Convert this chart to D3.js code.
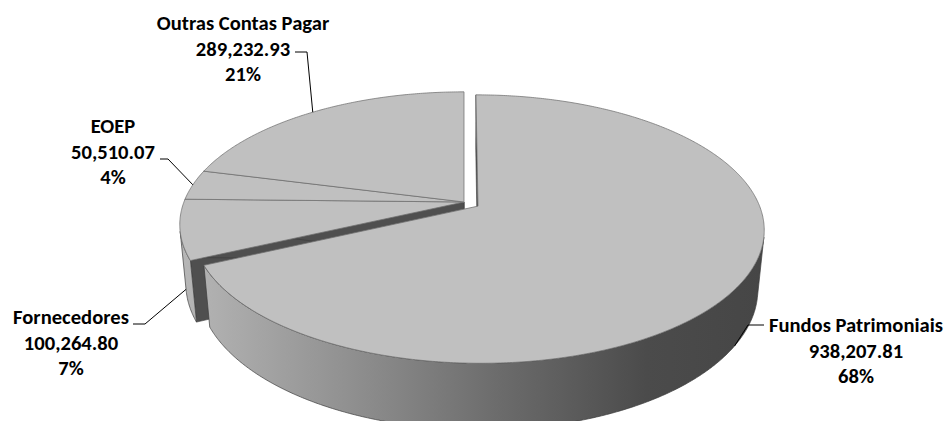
<!DOCTYPE html>
<html>
<head>
<meta charset="utf-8">
<script src="https://cdn.jsdelivr.net/npm/d3@7"></script>
<style>
    body { margin: 0; background: #fff; }
    svg { display: block; }
</style>
</head>
<body>
<div id="chart"></div>
<script>
// data, in slice order (clockwise from 12 o'clock)
const categories = ["Fundos Patrimoniais", "Fornecedores", "EOEP", "Outras Contas Pagar"];
const values = [938207.81, 100264.80, 50510.07, 289232.93];
const exploded = [true, false, false, false];

const width = 947;
const height = 421;

// 3d view of the pie (radius = 1)
const tilt = 27.4 * Math.PI / 180;
const camDist = 5.22;
const focal = 1462;
const depth = 0.24;
const explodeBy = 0.059;
const originX = 464;
const originY = 202;

// label blocks: centre x, first baseline, leader start + elbow
const labelLayout = [
    { x: 856, y: 332, from: [764, 325], elbow: [748, 325] },
    { x: 71, y: 324, from: [133, 324], elbow: [145, 324] },
    { x: 113, y: 133, from: [160, 159], elbow: [168, 159] },
    { x: 243, y: 30, from: [295, 52], elbow: [307, 52] }
];
const lineGap = 25.7;

const formatValue = d3.format(",.2f");
const formatPct = d3.format(".0%");
const total = d3.sum(values);

const svg = d3.select("#chart")
    .append("svg")
    .attr("width", width)
    .attr("height", height);

const defs = svg.append("defs");
const wallGradient = defs.append("linearGradient")
    .attr("id", "wallGradient")
    .attr("gradientUnits", "userSpaceOnUse")
    .attr("x1", 184).attr("x2", 762)
    .attr("y1", 0).attr("y2", 0);
[[0, "#b6b6b6"], [0.3, "#8e8e8e"], [0.55, "#6b6b6b"], [0.8, "#4b4b4b"], [1, "#464646"]]
    .forEach(s => wallGradient.append("stop").attr("offset", s[0]).attr("stop-color", s[1]));

const project = (u, v, h) => {
    const dist = camDist + v * Math.cos(tilt) - h * Math.sin(tilt);
    return [
        originX + focal * u / dist,
        originY - focal * (v * Math.sin(tilt) + h * Math.cos(tilt)) / dist
    ];
};

const rimPoint = (a, h, off) => project(off[0] + Math.sin(a), off[1] + Math.cos(a), h);

const rim = (a0, a1, h, off) => {
    const n = Math.max(2, Math.ceil(Math.abs(a1 - a0) / (Math.PI / 360)));
    return d3.range(n + 1).map(i => rimPoint(a0 + (a1 - a0) * i / n, h, off));
};

const camera = [0, -camDist * Math.cos(tilt)];

const wallVisible = (a, off) =>
    (camera[0] - off[0] - Math.sin(a)) * Math.sin(a) + (camera[1] - off[1] - Math.cos(a)) * Math.cos(a) > 0;

const line = d3.line();
const closed = pts => line(pts) + "Z";

const arcs = d3.pie().sort(null).startAngle(0).endAngle(2 * Math.PI)(values);
arcs.forEach((d, i) => {
    const mid = (d.startAngle + d.endAngle) / 2;
    d.offset = exploded[i] ? [explodeBy * Math.sin(mid), explodeBy * Math.cos(mid)] : [0, 0];
    d.mid = mid;
});

const drawSide = (g, d) => {
    const off = d.offset;
    const pivotTop = project(off[0], off[1], 0);
    const pivotBottom = project(off[0], off[1], -depth);
    const toCam = [camera[0] - off[0], camera[1] - off[1]];

    // radial cut faces
    [[d.startAngle, -1], [d.endAngle, 1]].forEach(([a, sign]) => {
        const n = [sign * Math.cos(a), -sign * Math.sin(a)];
        if (toCam[0] * n[0] + toCam[1] * n[1] > 0) {
            g.append("path")
                .attr("d", closed([pivotTop, rimPoint(a, 0, off), rimPoint(a, -depth, off), pivotBottom]))
                .attr("fill", "#4f4f4f")
                .attr("stroke", "#3a3a3a")
                .attr("stroke-width", 0.6);
        }
    });

    // outer wall, visible part only
    const step = Math.PI / 720;
    let runStart = null;
    const runs = [];
    for (let a = d.startAngle; a <= d.endAngle + 1e-9; a += step) {
        const vis = wallVisible(a, off);
        if (vis && runStart === null) runStart = a;
        if (!vis && runStart !== null) { runs.push([runStart, a - step]); runStart = null; }
    }
    if (runStart !== null) runs.push([runStart, d.endAngle]);

    runs.forEach(([a0, a1]) => {
        const top = rim(a0, a1, 0, off);
        const bottom = rim(a1, a0, -depth, off);
        g.append("path")
            .attr("d", closed(top.concat(bottom)))
            .attr("fill", "url(#wallGradient)")
            .attr("stroke", "#3c3c3c")
            .attr("stroke-width", 0.7);
    });
};

const drawTop = (g, d) => {
    const off = d.offset;
    const pts = [project(off[0], off[1], 0)].concat(rim(d.startAngle, d.endAngle, 0, off));
    g.append("path")
        .attr("d", closed(pts))
        .attr("fill", "#c0c0c0")
        .attr("stroke", "#707070")
        .attr("stroke-width", 0.75)
        .attr("stroke-linejoin", "round");
};

const pieGroup = svg.append("g");
const back = arcs.filter(d => !d.offset[0] && !d.offset[1]);
const front = arcs.filter(d => d.offset[0] || d.offset[1]);

back.forEach(d => drawSide(pieGroup, d));
back.forEach(d => drawTop(pieGroup, d));
front.forEach(d => { drawSide(pieGroup, d); drawTop(pieGroup, d); });

// labels and leader lines
const labels = svg.append("g")
    .style("font-family", "Carlito, Calibri, Lato, sans-serif")
    .style("font-weight", "bold")
    .style("font-size", "20.6px")
    .attr("fill", "#000");

arcs.forEach((d, i) => {
    const lay = labelLayout[i];
    const anchor = Math.cos(d.mid) < 0
        ? rimPoint(d.mid, -depth, d.offset)
        : rimPoint(d.mid, 0, d.offset);

    labels.append("path")
        .attr("d", line([lay.from, lay.elbow, anchor]))
        .attr("fill", "none")
        .attr("stroke", "#000")
        .attr("stroke-width", 1);

    const text = labels.append("text")
        .attr("text-anchor", "middle");
    [categories[i], formatValue(values[i]), formatPct(values[i] / total)].forEach((t, k) => {
        text.append("tspan")
            .attr("x", lay.x)
            .attr("y", lay.y + k * lineGap)
            .text(t);
    });
});
</script>
</body>
</html>
